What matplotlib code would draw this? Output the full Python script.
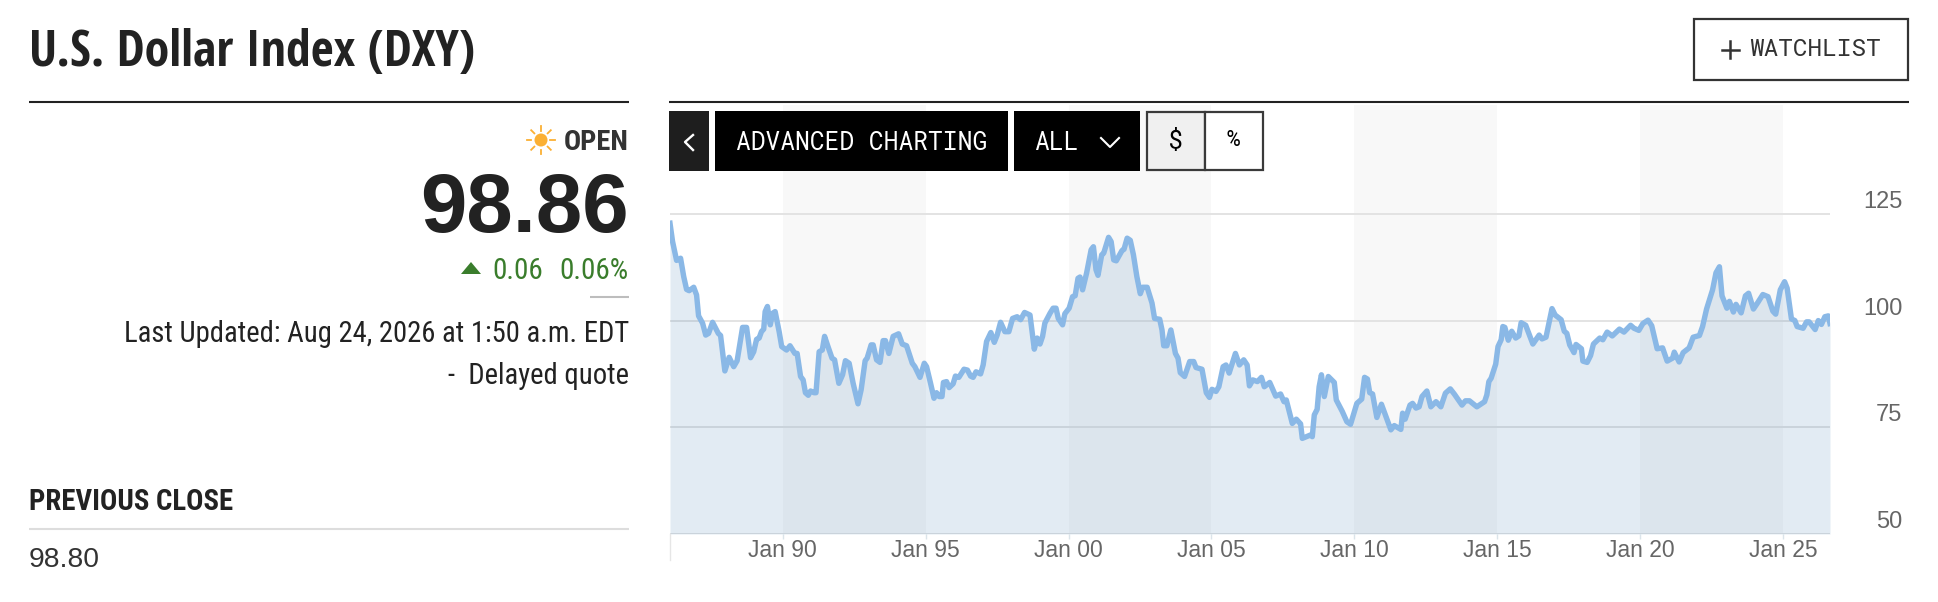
import matplotlib
matplotlib.use("Agg")
import matplotlib.pyplot as plt
from matplotlib.patches import Rectangle, Circle, Polygon

# Values: decimal year, index level
years = [
    1986.05, 1986.14, 1986.28, 1986.42, 1986.53, 1986.63, 1986.72, 1986.88, 1986.98, 1987.05,
    1987.19, 1987.30, 1987.40, 1987.54, 1987.74, 1987.82, 1987.97, 1988.12, 1988.28, 1988.40,
    1988.59, 1988.73, 1988.87, 1988.98, 1989.08, 1989.17, 1989.25, 1989.33, 1989.38, 1989.46,
    1989.56, 1989.64, 1989.73, 1989.87, 1989.96, 1990.13, 1990.25, 1990.42, 1990.50, 1990.62,
    1990.71, 1990.79, 1990.89, 1990.97, 1991.09, 1991.16, 1991.27, 1991.38, 1991.46, 1991.58,
    1991.72, 1991.81, 1991.96, 1992.09, 1992.19, 1992.32, 1992.46, 1992.63, 1992.74, 1992.88,
    1992.95, 1993.09, 1993.16, 1993.28, 1993.40, 1993.51, 1993.59, 1993.71, 1993.86, 1994.05,
    1994.18, 1994.33, 1994.53, 1994.62, 1994.80, 1994.95, 1995.03, 1995.17, 1995.29, 1995.38,
    1995.47, 1995.57, 1995.62, 1995.73, 1995.82, 1995.96, 1996.04, 1996.16, 1996.34, 1996.46,
    1996.57, 1996.66, 1996.76, 1996.92, 1997.01, 1997.13, 1997.28, 1997.40, 1997.50, 1997.62,
    1997.77, 1997.91, 1998.04, 1998.20, 1998.32, 1998.46, 1998.65, 1998.80, 1998.90, 1999.00,
    1999.09, 1999.17, 1999.35, 1999.46, 1999.56, 1999.64, 1999.79, 1999.87, 2000.02, 2000.14,
    2000.23, 2000.33, 2000.40, 2000.49, 2000.63, 2000.79, 2000.87, 2000.96, 2001.03, 2001.16,
    2001.23, 2001.40, 2001.49, 2001.58, 2001.67, 2001.87, 2001.94, 2002.05, 2002.16, 2002.27,
    2002.39, 2002.51, 2002.59, 2002.75, 2002.92, 2003.01, 2003.19, 2003.27, 2003.33, 2003.44,
    2003.58, 2003.74, 2003.83, 2003.91, 2004.06, 2004.24, 2004.38, 2004.46, 2004.67, 2004.82,
    2004.93, 2005.02, 2005.16, 2005.26, 2005.41, 2005.51, 2005.62, 2005.84, 2005.98, 2006.13,
    2006.25, 2006.33, 2006.45, 2006.61, 2006.75, 2006.85, 2007.04, 2007.25, 2007.42, 2007.54,
    2007.62, 2007.83, 2007.97, 2008.12, 2008.18, 2008.47, 2008.53, 2008.60, 2008.70, 2008.77,
    2008.85, 2008.95, 2009.09, 2009.30, 2009.37, 2009.58, 2009.74, 2009.87, 2010.09, 2010.26,
    2010.36, 2010.46, 2010.54, 2010.64, 2010.79, 2010.95, 2011.28, 2011.40, 2011.63, 2011.69,
    2011.78, 2011.95, 2012.04, 2012.16, 2012.27, 2012.37, 2012.54, 2012.68, 2012.86, 2013.03,
    2013.19, 2013.36, 2013.50, 2013.77, 2013.89, 2014.03, 2014.29, 2014.56, 2014.64, 2014.71,
    2014.79, 2014.95, 2015.03, 2015.14, 2015.20, 2015.27, 2015.39, 2015.51, 2015.65, 2015.76,
    2015.84, 2016.00, 2016.25, 2016.47, 2016.57, 2016.71, 2016.92, 2017.03, 2017.24, 2017.35,
    2017.44, 2017.54, 2017.69, 2017.76, 2017.95, 2018.00, 2018.15, 2018.27, 2018.37, 2018.59,
    2018.70, 2018.85, 2019.03, 2019.28, 2019.44, 2019.67, 2019.79, 2019.96, 2020.10, 2020.28,
    2020.41, 2020.60, 2020.79, 2020.95, 2021.14, 2021.20, 2021.37, 2021.51, 2021.72, 2021.86,
    2022.08, 2022.19, 2022.33, 2022.54, 2022.66, 2022.78, 2022.87, 2023.04, 2023.13, 2023.27,
    2023.36, 2023.54, 2023.69, 2023.80, 2023.97, 2024.13, 2024.30, 2024.48, 2024.65, 2024.75,
    2024.91, 2025.06, 2025.15, 2025.30, 2025.42, 2025.50, 2025.71, 2025.83, 2025.92, 2026.13,
    2026.24, 2026.35, 2026.47, 2026.59, 2026.65,
]
dxy = [
    122.8, 118.5, 114.1, 114.6, 110.3, 107.3, 107.0, 107.8, 106.0, 101.1,
    99.4, 96.6, 97.0, 99.6, 97.0, 96.5, 88.2, 91.4, 89.2, 90.6,
    98.4, 98.4, 91.3, 92.7, 95.6, 95.9, 97.4, 98.0, 102.1, 103.3,
    99.0, 101.7, 102.1, 97.4, 93.9, 93.1, 94.1, 92.3, 92.3, 86.9,
    86.1, 83.1, 82.5, 83.5, 83.1, 83.1, 92.7, 93.1, 96.3, 93.9,
    91.2, 90.8, 85.3, 87.3, 90.6, 90.0, 85.3, 80.5, 83.8, 90.6,
    91.2, 94.3, 94.3, 90.8, 90.2, 95.3, 95.3, 92.3, 96.3, 96.9,
    94.5, 94.1, 90.0, 89.2, 86.7, 90.0, 89.2, 85.3, 81.8, 83.1,
    82.2, 82.2, 85.5, 85.7, 84.3, 85.2, 87.0, 86.7, 88.6, 88.4,
    87.0, 86.7, 88.0, 87.5, 89.6, 95.1, 97.2, 94.9, 96.6, 99.6,
    97.4, 97.4, 100.5, 100.9, 100.2, 101.9, 101.3, 93.3, 95.9, 94.5,
    96.3, 99.4, 101.7, 102.9, 102.9, 100.5, 99.0, 101.6, 102.9, 105.6,
    105.8, 109.9, 110.2, 107.2, 111.1, 116.6, 117.3, 111.9, 110.6, 115.4,
    115.8, 119.5, 118.5, 114.2, 114.0, 116.4, 116.7, 119.3, 118.8, 115.4,
    110.3, 106.3, 107.8, 107.8, 104.1, 100.5, 100.3, 97.8, 94.1, 94.1,
    97.8, 92.3, 91.2, 87.8, 86.9, 90.4, 90.4, 89.0, 88.6, 83.1,
    82.0, 83.9, 83.4, 84.5, 89.2, 89.6, 87.7, 92.3, 89.6, 90.8,
    89.6, 84.7, 86.1, 85.7, 86.7, 84.5, 85.5, 82.3, 82.8, 81.0,
    81.4, 75.9, 76.9, 75.8, 72.4, 73.2, 72.8, 77.9, 79.2, 84.5,
    87.3, 82.2, 86.9, 85.5, 81.4, 78.7, 76.3, 75.7, 80.6, 81.6,
    86.7, 86.3, 83.1, 82.8, 77.3, 80.4, 74.4, 75.4, 74.5, 78.3,
    76.9, 80.2, 80.6, 79.5, 79.8, 82.2, 83.5, 79.8, 81.0, 79.8,
    83.0, 84.0, 82.8, 80.2, 81.2, 81.2, 79.8, 81.0, 82.6, 85.7,
    86.5, 89.8, 93.9, 95.5, 98.6, 98.4, 95.4, 97.5, 95.9, 96.4,
    99.5, 98.9, 94.5, 96.6, 95.7, 96.1, 102.8, 101.3, 100.2, 97.5,
    97.0, 94.3, 92.5, 94.4, 93.4, 90.5, 90.2, 91.8, 94.5, 95.9,
    95.5, 97.3, 96.4, 98.0, 97.3, 98.9, 98.2, 97.7, 99.3, 100.1,
    98.8, 93.4, 93.6, 90.5, 91.2, 92.6, 90.3, 92.5, 93.6, 96.1,
    96.5, 98.6, 102.7, 107.2, 111.2, 112.6, 105.8, 102.9, 104.5, 102.0,
    103.8, 101.8, 105.8, 106.4, 102.7, 104.3, 106.1, 105.6, 102.2, 101.5,
    107.2, 109.1, 107.6, 100.4, 100.0, 98.6, 98.2, 99.7, 99.7, 97.9,
    100.0, 99.1, 100.9, 101.1, 99.3,
]

x_ticks = [1990, 1995, 2000, 2005, 2010, 2015, 2020, 2025]
x_labels = ["Jan 90", "Jan 95", "Jan 00", "Jan 05", "Jan 10", "Jan 15", "Jan 20", "Jan 25"]
y_ticks = [50, 75, 100, 125]
band_edges = [(1990, 1995), (2000, 2005), (2010, 2015), (2020, 2025)]

NARROW = ["Roboto Condensed", "Liberation Sans"]
HEAVY = ["Open Sans Condensed", "Liberation Sans"]
MONO = ["Roboto Mono", "Liberation Mono"]
W, H = 1938, 602

plt.rcParams["font.family"] = ["Liberation Sans", "DejaVu Sans"]
fig = plt.figure(figsize=(W / 100, H / 100), dpi=100)

# Price chart, placed by pixel box
left, right, top, bottom = 670, 1830, 105, 534
ax = fig.add_axes([left / W, 1 - bottom / H, (right - left) / W, (bottom - top) / H])
ax.set_xlim(1986.05, 2026.65)
ax.set_ylim(50, 150.5)
for spine in ax.spines.values():
    spine.set_visible(False)

for start, end in band_edges:
    ax.axvspan(start, end, color="#f8f8f8", lw=0, zorder=0)

ax.set_yticks(y_ticks)
ax.tick_params(axis="y", length=0, labelleft=False)
ax.grid(axis="y", color="#e3e3e3", lw=1.4, zorder=1)
ax.set_axisbelow(True)

ax.fill_between(years, dxy, 50, color="#3d7ab0", alpha=0.15, lw=0, zorder=2)
ax.plot(years, dxy, color="#8ab8e6", lw=3.9, solid_joinstyle="round", zorder=3)

ax.set_xticks(x_ticks)
ax.set_xticklabels(x_labels)
ax.tick_params(axis="x", length=3.6, width=1, color="#dbe4ea", labelcolor="#666666",
               labelsize=16.5, pad=0)

# y labels sit above their gridlines, outside the plot
for val in y_ticks:
    ax.annotate(str(val), xy=(1, val), xycoords=("axes fraction", "data"),
                xytext=(52, 8.5), textcoords="offset points", ha="right", va="center",
                fontsize=17, color="#666666", annotation_clip=False)

# Page furniture drawn in pixel coordinates
ui = fig.add_axes([0, 0, 1, 1], facecolor="none")
ui.set_xlim(0, W)
ui.set_ylim(H, 0)
ui.axis("off")


def box(x0, y0, x1, y1, fc, ec="none", lw=0):
    ui.add_patch(Rectangle((x0, y0), x1 - x0, y1 - y0, facecolor=fc, edgecolor=ec, linewidth=lw))


def label(x, y, s, size, color="#222222", ha="left", weight="normal", family=None):
    ui.text(x, y, s, fontsize=size, color=color, ha=ha, va="center", fontweight=weight,
            family=family or NARROW)


# rules
ui.plot([29, 629], [102, 102], color="#222222", lw=1.5, solid_capstyle="butt")
ui.plot([669, 1909], [102, 102], color="#222222", lw=1.5, solid_capstyle="butt")
ui.plot([590, 629], [296.5, 296.5], color="#bdbdbd", lw=1.5, solid_capstyle="butt")
ui.plot([29, 629], [529, 529], color="#dddddd", lw=1.5, solid_capstyle="butt")
ui.plot([670, 670], [534, 560], color="#e6e6e6", lw=1)

# left panel
label(29, 53, "U.S. Dollar Index (DXY)", 36, weight="bold", family=HEAVY)
label(629, 142, "OPEN", 20.5, color="#333333", ha="right", weight="bold")
label(629, 210, "98.86", 60, ha="right", weight="bold", family="Liberation Sans")
label(629, 271, "0.06%", 21, color="#3a7d2c", ha="right")
label(543, 271, "0.06", 21, color="#3a7d2c", ha="right")
ui.add_patch(Polygon([[461, 274], [481, 274], [471, 262]], facecolor="#3a7d2c"))
label(629, 334, "Last Updated: Aug 24, 2026 at 1:50 a.m. EDT", 20.6, ha="right")
label(629, 376, "-  Delayed quote", 20.6, ha="right")
label(29, 502, "PREVIOUS CLOSE", 20.7, weight="bold")
label(29, 560, "98.80", 20.3, color="#333333", family="Liberation Sans")

# sun icon
sun_x, sun_y = 541, 140
ui.add_patch(Circle((sun_x, sun_y), 6.5, facecolor="#fbb034", edgecolor="none"))
for dx, dy in [(1, 0), (-1, 0), (0, 1), (0, -1), (.7, .7), (-.7, .7), (.7, -.7), (-.7, -.7)]:
    ui.plot([sun_x + 9.5 * dx, sun_x + 14 * dx], [sun_y + 9.5 * dy, sun_y + 14 * dy],
            color="#fbb034", lw=1.3)

# toolbar
box(669, 111, 709, 171, "#1e1e1e")
ui.plot([693, 685, 693], [135, 142, 150], color="white", lw=1.7)
box(715, 111, 1008, 171, "black")
label(861.5, 142.5, "ADVANCED CHARTING", 17.7, color="white", ha="center", family=MONO)
box(1014, 111, 1140, 171, "black")
label(1034, 142.5, "ALL", 17.7, color="white", family=MONO)
ui.plot([1101, 1110, 1119], [138, 147, 138], color="white", lw=1.5)
box(1147, 112, 1205, 170, "#f0f0f0", ec="#3a3a3a", lw=1.6)
box(1205, 112, 1263, 170, "white", ec="#3a3a3a", lw=1.6)
label(1176, 141, "$", 18, color="black", ha="center", family=MONO, weight="bold")
label(1233, 141, "%", 16, color="black", ha="center", family=MONO, weight="bold")

# watchlist button
box(1694, 19, 1908, 80, "white", ec="#333333", lw=1.6)
ui.plot([1722, 1739], [49.5, 49.5], color="#333333", lw=1.8)
ui.plot([1730.5, 1730.5], [41, 58], color="#333333", lw=1.8)
label(1749, 50, "WATCHLIST", 17.6, color="#333333", family=MONO)

fig.savefig("out.png", dpi=100)
plt.close(fig)
